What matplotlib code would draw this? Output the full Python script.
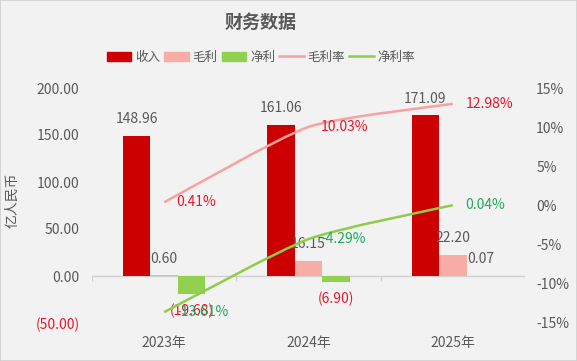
import matplotlib
matplotlib.use("Agg")
import matplotlib.pyplot as plt
from matplotlib.patches import Patch, PathPatch
from matplotlib.lines import Line2D
from matplotlib.path import Path
import numpy as np

plt.rcParams['font.family'] = ['Noto Sans CJK SC', 'DejaVu Sans']

categories = ["2023年", "2024年", "2025年"]
revenue = [148.96, 161.06, 171.09]
gross = [0.60, 16.15, 22.20]
net = [-19.68, -6.90, 0.07]
gross_margin = [0.41, 10.03, 12.98]
net_margin = [-13.61, -4.29, 0.04]

left_ticks = [-50, 0, 50, 100, 150, 200]
right_ticks = [-15, -10, -5, 0, 5, 10, 15]

C_REV = '#cc0000'
C_GROSS = '#f8aca6'
C_NET = '#92d050'
C_GM_LINE = '#f7a1a1'
C_NM_LINE = '#8fcc4a'
C_RED_TXT = '#e3182d'
C_GREEN_TXT = '#1fa85e'
C_TXT = '#595959'
BG = '#f2f2f2'

fig = plt.figure(figsize=(5.77, 3.61), dpi=100, facecolor=BG)
fig.patches.append(plt.Rectangle((0, 0), 1, 1, transform=fig.transFigure,
                                 fill=False, edgecolor='#d0d0d0', lw=1.2))
ax = fig.add_axes([92/577, (361-323)/361, (525-92)/577, (323-88)/361])
ax.set_facecolor(BG)
ax2 = ax.twinx()

x = np.arange(len(categories))
w = 0.19
ax.bar(x - w, revenue, w, color=C_REV, zorder=2)
ax.bar(x, gross, w, color=C_GROSS, zorder=2)
ax.bar(x + w, net, w, color=C_NET, zorder=2)

ax.set_xlim(-0.5, 2.5)
ax.set_ylim(-50, 200)
ax2.set_ylim(-15, 15)

def fmt_num(v):
    return f"({abs(v):.2f})" if v < 0 else f"{v:.2f}"

ax.set_yticks(left_ticks)
ax.set_yticklabels([fmt_num(v) for v in left_ticks])
for t, v in zip(ax.get_yticklabels(), left_ticks):
    t.set_color(C_RED_TXT if v < 0 else C_TXT)
ax.tick_params(axis='y', length=0, pad=9, labelsize=10)
ax2.set_yticks(right_ticks)
ax2.set_yticklabels([f"{v}%" for v in right_ticks])
ax2.tick_params(axis='y', length=0, pad=8, labelsize=10, labelcolor=C_TXT)

ax.set_xticks(x)
ax.set_xticklabels(categories)
ax.tick_params(axis='x', length=0, pad=9, labelsize=10, labelcolor=C_TXT)

for a in (ax, ax2):
    for s in a.spines.values():
        s.set_visible(False)

# zero axis line with category boundary ticks
ax.axhline(0, color='#d0d0d0', lw=1, zorder=1)
bounds = np.arange(len(categories) + 1) - 0.5
ax.vlines(bounds, -5, 0, color='#d0d0d0', lw=1, zorder=1)

# smoothed lines
def smooth_path(xs, ys, s=0.1):
    pts = np.column_stack([xs, ys]).astype(float)
    n = len(pts)
    verts = [pts[0]]
    codes = [Path.MOVETO]
    for i in range(n - 1):
        p0 = pts[i - 1] if i > 0 else pts[i]
        p1 = pts[i]
        p2 = pts[i + 1]
        p3 = pts[i + 2] if i + 2 < n else pts[i + 1]
        c1 = p1 + s * (p2 - p0)
        c2 = p2 - s * (p3 - p1)
        verts += [c1, c2, p2]
        codes += [Path.CURVE4] * 3
    return Path(verts, codes)

ax2.add_patch(PathPatch(smooth_path(x, gross_margin), facecolor='none',
                        edgecolor=C_GM_LINE, lw=1.8, zorder=3))
ax2.add_patch(PathPatch(smooth_path(x, net_margin), facecolor='none',
                        edgecolor=C_NM_LINE, lw=1.8, zorder=3))

# data labels
for i in range(len(categories)):
    ax.annotate(fmt_num(revenue[i]), (x[i] - w, revenue[i]), xytext=(0, 12),
                textcoords='offset points', ha='center', va='center',
                fontsize=10, color=C_TXT, zorder=5)
    ax.annotate(fmt_num(gross[i]), (x[i], gross[i]), xytext=(0, 12),
                textcoords='offset points', ha='center', va='center',
                fontsize=10, color=C_TXT, zorder=5)
    if net[i] < 0:
        ax.annotate(fmt_num(net[i]), (x[i] + w, net[i]), xytext=(0, -12),
                    textcoords='offset points', ha='center', va='center',
                    fontsize=10, color=C_RED_TXT, zorder=5)
    else:
        ax.annotate(fmt_num(net[i]), (x[i] + w, net[i]), xytext=(0, 12),
                    textcoords='offset points', ha='center', va='center',
                    fontsize=10, color=C_TXT, zorder=5)
    ax2.annotate(f"{gross_margin[i]:.2f}%", (x[i], gross_margin[i]), xytext=(9, 0),
                 textcoords='offset points', ha='left', va='center',
                 fontsize=10, color=C_RED_TXT, zorder=5)
    ax2.annotate(f"{net_margin[i]:.2f}%", (x[i], net_margin[i]), xytext=(9, 0),
                 textcoords='offset points', ha='left', va='center',
                 fontsize=10, color=C_GREEN_TXT, zorder=5)

fig.text(261/577, 1 - 22/361, "财务数据", ha='center', va='center',
         fontsize=13, fontweight='bold', color=C_TXT)
fig.text(12/577, 1 - 200/361, "亿人民币", ha='center', va='center',
         rotation=90, fontsize=10, color=C_TXT)

handles = [Patch(color=C_REV), Patch(color=C_GROSS), Patch(color=C_NET),
           Line2D([], [], color=C_GM_LINE, lw=1.8),
           Line2D([], [], color=C_NM_LINE, lw=1.8)]
labels = ["收入", "毛利", "净利", "毛利率", "净利率"]
leg = fig.legend(handles, labels, loc='center', bbox_to_anchor=(261/577, 1 - 57/361),
                 ncol=5, frameon=False, fontsize=9, handlelength=1.95,
                 handleheight=0.7, handletextpad=0.3, columnspacing=0.35,
                 labelcolor=C_TXT)

fig.savefig("out.png", dpi=100, facecolor=BG)
